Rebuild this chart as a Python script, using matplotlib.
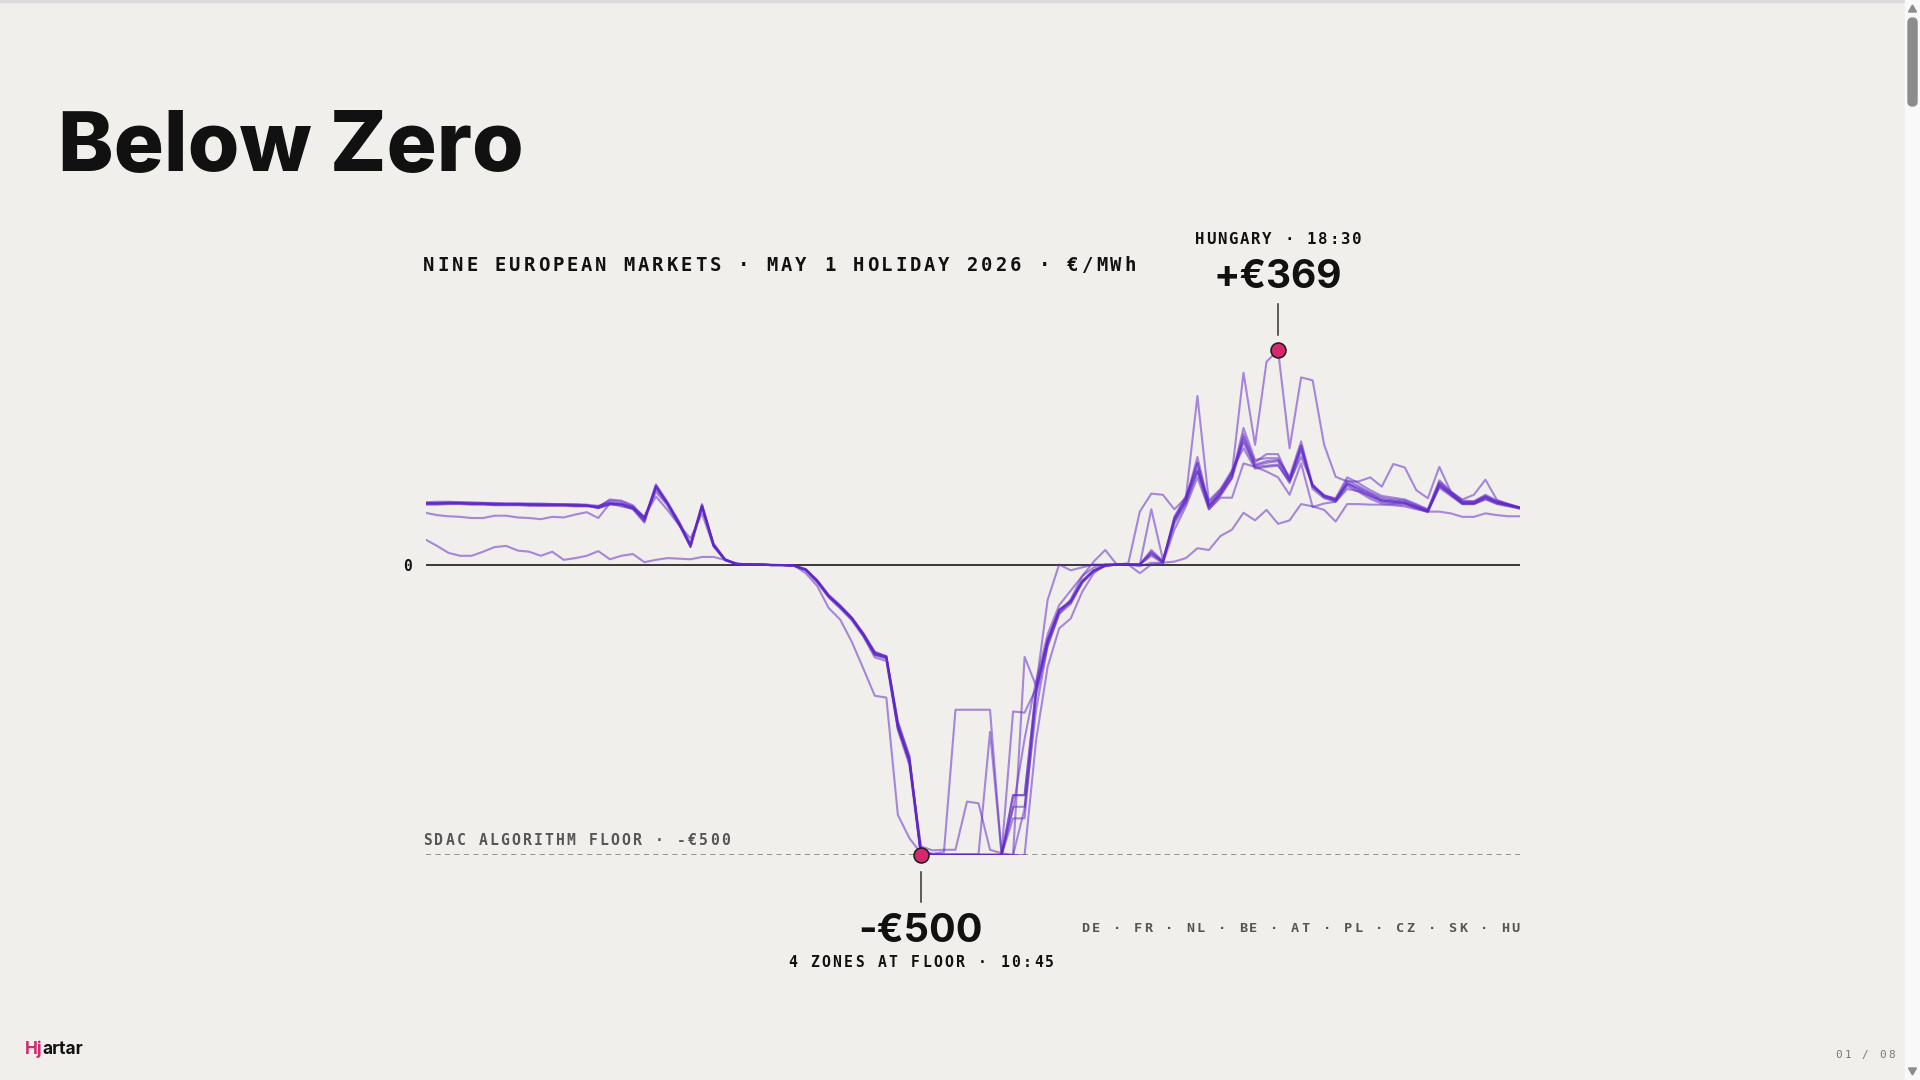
import numpy as np
import matplotlib
matplotlib.use("Agg")
import matplotlib.pyplot as plt
from matplotlib.font_manager import FontProperties, findfont, get_font
from matplotlib.patches import Rectangle, FancyBboxPatch, Polygon
from matplotlib.transforms import IdentityTransform

# ---------------- data (EUR/MWh, 15-minute slots, 1 May 2026) ----------------
slots = [f"{h:02d}:{m:02d}" for h in range(24) for m in (0, 15, 30, 45)]
zones = ["DE", "FR", "NL", "BE", "AT", "PL", "CZ", "SK", "HU"]

DE = [105,105,106,106,105,105,104,104,104,103,103,103,103,102,102,
      97,104,104,97,74,136,106,71,32,102,34,8,
      1,0,0,-1,-1,-2,
      -9,-29,-55,-73,-93,-121,-155,-160,-279,-336,
      -500,-500,-500,-500,-500,-500,-500,-500,
      -397,-397,-213,-130,-78,-64,-28,-10,-2,0,0,0,
      20,4,80,115,175,99,122,151,235,180,183,183,151,212,137,117,110,138,128,117,
      108,106,105,98,91,138,121,105,105,115,106,102,97]
NL = [107,108,108,107,107,106,106,105,105,105,105,104,104,104,103,
      101,106,104,98,78,138,108,74,35,104,36,9,
      1,0,0,0,-1,-2,
      -8,-27,-52,-70,-91,-118,-150,-158,-272,-330,
      -500,-500,-500,-500,-500,-500,-500,-500,
      -417,-417,-220,-135,-80,-66,-30,-12,-3,0,0,0,
      25,6,78,112,185,103,125,155,225,176,190,190,145,205,130,114,108,135,125,113,
      105,104,103,97,90,135,120,104,104,113,105,101,97]
BE = [103,103,104,104,103,103,102,102,102,101,101,101,101,100,100,
      99,112,110,102,80,130,104,70,30,100,32,7,
      1,0,0,-1,-1,-2,
      -10,-31,-57,-76,-96,-124,-160,-166,-285,-345,
      -500,-500,-500,-500,-500,-500,-500,-500,
      -437,-437,-225,-140,-85,-68,-32,-12,-2,0,0,0,
      15,3,75,110,160,95,118,148,215,170,175,178,145,200,135,120,112,140,132,122,
      112,110,108,100,92,140,123,108,107,117,108,103,98]
AT = [104,104,105,105,104,104,103,103,103,102,102,102,102,101,101,
      100,110,108,100,82,125,102,68,35,98,33,8,
      1,0,0,-1,-1,-2,
      -9,-28,-54,-72,-92,-120,-152,-158,-275,-340,
      -485,-492,-491,-491,-408,-411,-491,-497,
      -253,-255,-213,-130,-78,-62,-28,-10,-2,0,0,0,
      22,5,82,118,165,100,124,160,210,168,170,172,140,195,135,118,112,145,135,124,
      115,112,110,102,94,142,124,108,108,118,108,103,98]
PL = [89,85,83,82,80,80,84,84,81,80,78,82,81,86,90,
      80,105,100,96,82,117,94,68,45,88,31,8,
      1,0,0,-1,-1,-2,
      -9,-29,-55,-73,-93,-121,-155,-160,-279,-336,
      -495,-500,-500,-500,-500,-500,-500,-500,
      -397,-397,-213,-130,-78,-64,-30,-10,-2,0,0,-15,
      0,2,60,100,150,95,115,115,174,168,160,150,120,174,99,105,108,130,126,118,
      110,108,106,100,92,132,118,104,104,112,104,100,96]
CZ = [106,106,107,107,106,106,105,105,105,104,104,104,103,103,102,
      98,105,103,97,76,133,105,73,33,101,35,9,
      1,0,0,-1,-1,-2,
      -8,-28,-54,-72,-92,-119,-152,-158,-270,-330,
      -497,-498,-495,-250,-250,-250,-250,-500,
      -500,-500,-302,-176,-110,-93,-47,-15,0,0,0,0,
      18,4,76,108,175,101,120,150,220,172,178,180,148,205,134,116,110,140,130,120,
      110,108,106,98,92,136,121,106,106,116,107,102,97]
SK = [105,105,105,105,104,104,103,103,103,103,102,102,102,101,101,
      99,107,105,99,79,134,105,72,33,101,34,8,
      1,0,0,-1,-1,-2,
      -9,-29,-55,-74,-94,-122,-156,-162,-282,-340,
      -499,-499,-499,-499,-499,-499,-288,-497,
      -500,-159,-209,-61,0,-10,-5,0,0,0,0,0,
      95,9,70,105,160,110,130,162,200,165,168,170,143,185,138,118,114,150,140,128,
      118,115,112,104,95,145,126,110,109,120,110,104,98]
HU = [106,106,106,106,105,105,104,104,104,104,103,103,103,102,101,
      97,103,102,95,72,135,105,70,30,100,33,8,
      1,0,0,-1,-1,-2,
      -15,-37,-75,-95,-133,-179,-226,-229,-431,-471,
      -497,-500,-500,-500,-500,-500,-500,-500,
      -420,-300,-200,-120,-70,-45,-20,-5,0,0,2,91,
      122,120,95,115,290,107,128,157,330,206,349,369,200,322,317,206,151,143,143,150,
      134,173,167,128,114,168,125,112,120,146,111,104,98]
FR = [43,32,20,15,15,22,30,32,24,22,15,22,8,11,15,
      23,9,15,18,4,8,11,10,9,13,13,8,
      2,0,0,-1,-1,-2,
      -9,-28,-54,-72,-92,-120,-153,-160,-280,-336,
      -488,-499,-499,-499,-499,-499,-499,-499,
      -500,-420,-250,-140,-85,-60,-20,5,25,0,0,-3,
      3,3,5,11,28,25,49,60,89,76,94,70,76,104,100,94,74,104,104,103,
      103,102,100,95,91,91,88,82,82,88,85,83,83]

series = {"DE": DE, "FR": FR, "NL": NL, "BE": BE, "AT": AT,
          "PL": PL, "CZ": CZ, "SK": SK, "HU": HU}
FLOOR = -500
floor_slot = "10:45"
peak_slot = "18:30"

# ---------------- styling ----------------
W, H, DPI = 1920, 1080, 100
BG = "#f1efeb"
LINE = "#5f27c7"
DOT = "#d6286e"
INK = "#111111"
GREY = "#555555"
MONO = "DejaVu Sans Mono"

fig = plt.figure(figsize=(W / DPI, H / DPI), dpi=DPI, facecolor=BG)


def fy(py):
    return 1 - py / H


def mono(s, base_px, size, color, weight="bold", left=None, right=None,
         center=None, width=None):
    """Letter-spaced monospace text: each glyph centred in an equal cell."""
    if center is not None:
        left, right = center - width / 2, center + width / 2
    em = size / 72 * DPI
    g = 0.52 * em
    n = len(s)
    p = (right - left - g) / (n - 1) if n > 1 else 0
    fp = FontProperties(family=MONO, weight=weight, size=size)
    for k, ch in enumerate(s):
        if ch == " ":
            continue
        cx = left + g / 2 + k * p
        fig.text(cx / W, fy(base_px), ch, fontproperties=fp, color=color,
                 ha="center", va="baseline")


# ---------------- chart ----------------
ax = fig.add_axes([425.5 / W, fy(855), (1520 - 425.5) / W, (855 - 332.1) / H])
ax.set_xlim(0, 95)
ax.set_ylim(-500, 400)
ax.axis("off")
x = np.arange(len(slots))

ax.axhline(0, color="#1a1a1a", lw=1.2, zorder=1)
ax.axhline(FLOOR, color="#7a7a7a", lw=1.1, ls=(0, (3.4, 2.8)), zorder=1)

for name, vals in series.items():
    ax.plot(x, vals, color=LINE, alpha=0.52, lw=1.5, zorder=2)

fi = slots.index(floor_slot)
pi = slots.index(peak_slot)
peak_val = HU[pi]
for xi, yv in ((fi, FLOOR), (pi, peak_val)):
    ax.plot([xi], [yv], "o", ms=10.8, mfc=DOT, mec="#1c1c1c", mew=1.1,
            zorder=5, clip_on=False)

fig.canvas.draw()
fxp, fyp = ax.transData.transform((fi, FLOOR))
fyp = H - fyp
pxp, pyp = ax.transData.transform((pi, peak_val))
pyp = H - pyp

# connectors
fig.lines.append(plt.Line2D([pxp / W, pxp / W], [fy(pyp - 15), fy(pyp - 46)],
                            transform=fig.transFigure, color="#333333", lw=1.1))
fig.lines.append(plt.Line2D([fxp / W, fxp / W], [fy(fyp + 17), fy(fyp + 47)],
                            transform=fig.transFigure, color="#333333", lw=1.1))

# ---------------- texts ----------------
fig.text(57.5 / W, fy(170.7), "Below Zero",
         fontproperties=FontProperties(family="Inter", weight=800, size=60.2),
         color=INK, ha="left", va="baseline")

mono("NINE EUROPEAN MARKETS · MAY 1 HOLIDAY 2026 · €/MWh", 270.7, 13.6, INK,
     left=424, right=1135)

mono("0", 570.7, 10.5, INK, center=407.5, width=8)

mono(f"HUNGARY · {peak_slot}", pyp - 105.7, 11.3, INK, center=pxp, width=165)
fig.text(pxp / W, fy(pyp - 61.7), f"+€{peak_val}",
         fontproperties=FontProperties(family="Inter", weight="bold", size=28),
         color=INK, ha="center", va="baseline")

mono(f"SDAC ALGORITHM FLOOR · -€{abs(FLOOR)}", 845, 10.6, GREY,
     left=424, right=729)

fig.text(fxp / W, fy(fyp + 86.7), f"-€{abs(FLOOR)}",
         fontproperties=FontProperties(family="Inter", weight="bold", size=28.5),
         color=INK, ha="center", va="baseline")
mono(f"4 ZONES AT FLOOR · {floor_slot}", fyp + 111.7, 10.6, INK,
     center=fxp, width=265)

mono(" · ".join(zones), 931.7, 9.7, GREY, left=1082, right=1519)

mono("01 / 08", 1057.7, 7.9, "#777777", weight="normal", left=1836, right=1894)

# logo: "Hj" accent + "artar", placed with the font's own advances
logo_fp = FontProperties(family="Inter", weight="bold", size=12.4)
lf = get_font(findfont(logo_fp))
lf.set_size(12.4, DPI)
gH = lf.load_char(ord("H"))
lsb_H = gH.horiBearingX / 64
adv_Hj = gH.linearHoriAdvance / 65536
adv_Hj += lf.load_char(ord("j")).linearHoriAdvance / 65536
lsb_a = lf.load_char(ord("a")).horiBearingX / 64
origin = 25 - lsb_H
fig.text(25 / W, fy(1054), "Hj", fontproperties=logo_fp, color=DOT,
         ha="left", va="baseline")
fig.text((origin + adv_Hj + lsb_a) / W, fy(1054), "artar",
         fontproperties=logo_fp, color=INK, ha="left", va="baseline")

# ---------------- browser chrome (scrollbar, top edge) ----------------
idt = IdentityTransform()
fig.patches.append(Rectangle((0, H - 2), 1905, 2, transform=idt,
                             color="#dcdcdc", zorder=0))
fig.patches.append(Rectangle((1905, 0), 15, H, transform=idt,
                             color="#f9f9f9", zorder=0))
fig.patches.append(FancyBboxPatch((1908, H - 106), 9, 88,
                                  boxstyle="round,pad=0,rounding_size=4.5",
                                  transform=idt, color="#8c8c8c", zorder=1))
fig.patches.append(Polygon([[1908.5, H - 12], [1916.5, H - 12], [1912.5, H - 5]],
                           closed=True, transform=idt, color="#8c8c8c"))
fig.patches.append(Polygon([[1908.5, 12], [1916.5, 12], [1912.5, 5]],
                           closed=True, transform=idt, color="#8c8c8c"))

fig.savefig("out.png", dpi=DPI, facecolor=BG)
